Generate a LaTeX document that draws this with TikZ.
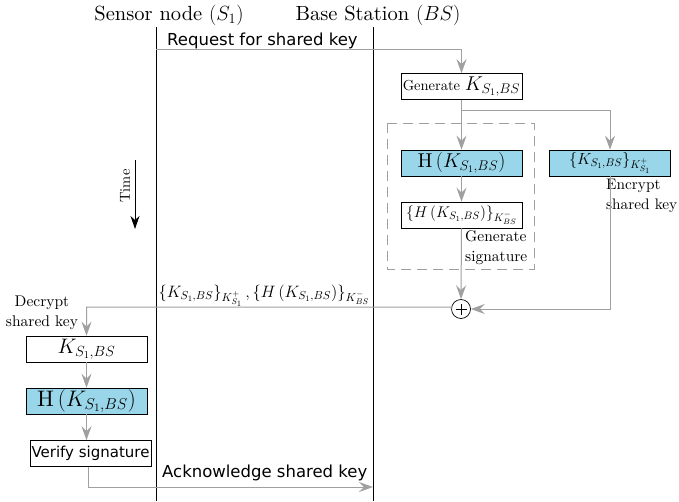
\RequirePackage{fix-cm}
\documentclass[tikz,border=0pt]{standalone}
\usepackage{fontspec}
\setmainfont{lmroman10-regular.otf}[ItalicFont=lmroman10-italic.otf,BoldFont=lmroman10-bold.otf]
\newfontfamily\sansf{DejaVu Sans}
\usetikzlibrary{arrows.meta}
\definecolor{arrg}{RGB}{160,160,160}
\definecolor{boxblue}{RGB}{153,214,234}
\definecolor{dashg}{RGB}{160,160,160}
\begin{document}
\begin{tikzpicture}[x=1pt,y=-1pt,
  flow/.style={draw=arrg,line width=1pt,-{Stealth[length=14pt,width=10pt,inset=5pt]}},
  life/.style={draw=black,line width=0.8pt},
  wbox/.style={draw=black,fill=white,line width=0.6pt,minimum width=121pt,minimum height=26pt,inner sep=1pt},
  bbox/.style={wbox,fill=boxblue},
  lbl/.style={inner sep=0pt,align=left},
  sl/.style={inner sep=0pt,font=\sansf\fontsize{16.5}{18}\selectfont}]
\useasboundingbox (0,0) rectangle (679,501);
% headers
\node[inner sep=0pt,anchor=base,font=\fontsize{20.5}{23}\selectfont] (hs) at (169,20) {Sensor node $(S_1)$};
\node[inner sep=0pt,anchor=base,font=\fontsize{20.5}{23}\selectfont] (hb) at (378,20) {Base Station $(BS)$};
% lifelines
\coordinate (s0) at (156,27); \coordinate (s1) at (156,501);
\coordinate (b0) at (373,27); \coordinate (b1) at (373,501);
\draw[life] (s0) -- (s1);
\draw[life] (b0) -- (b1);
% time arrow
\coordinate (t0) at (135,160); \coordinate (t1) at (135,229);
\draw[line width=1pt,-{Stealth[length=13pt,width=9pt,inset=4pt]}] (t0) -- (t1);
\node[rotate=90,inner sep=0pt,font=\fontsize{14.5}{17}\selectfont] (time) at (125,186) {Time};
% boxes BS side
\node[wbox,font=\fontsize{14.5}{17}\selectfont] (gen) at (461.5,86.5) {Generate {\fontsize{20}{22}\selectfont$K_{S_1,BS}$}};
\draw[dashg,line width=1pt,dash pattern=on 10pt off 6pt] (387,123) rectangle (534,269);
\node[bbox,font=\fontsize{20}{22}\selectfont] (hk) at (461.5,163) {$\mathrm{H}\left(K_{S_1,BS}\right)$};
\node[wbox,font=\fontsize{15.5}{17}\selectfont] (sig) at (461.5,215) {$\{H\left(K_{S_1,BS}\right)\}_{K_{BS}^-}$};
\node[bbox,font=\fontsize{16}{19}\selectfont] (enc) at (610,163) {$\{K_{S_1,BS}\}_{K_{S_1}^+}$};
\node[lbl,anchor=north west,font=\fontsize{15.5}{20}\selectfont] (gsl) at (465,230) {Generate\\signature};
\node[lbl,anchor=north west,font=\fontsize{15.3}{20}\selectfont] (esl) at (606,179) {Encrypt\\shared key};
\node[circle,draw=black,line width=0.7pt,minimum size=19pt,inner sep=0pt] (xor) at (461,309) {};
\draw[line width=0.7pt] ([xshift=-5.5pt]xor.center) -- ([xshift=5.5pt]xor.center)
  ([yshift=-5.5pt]xor.center) -- ([yshift=5.5pt]xor.center);
% sensor side boxes
\node[wbox,font=\fontsize{21}{24}\selectfont] (k) at (86.5,349) {$K_{S_1,BS}$};
\node[bbox,font=\fontsize{22.5}{24}\selectfont] (hk2) at (86.5,401) {$\mathrm{H}\left(K_{S_1,BS}\right)$};
\node[wbox,font=\sansf\fontsize{15}{17}\selectfont] (ver) at (90.5,453.5) {Verify signature};
\node[lbl,align=center,font=\fontsize{15.5}{20}\selectfont] (dsl) at (42,313) {Decrypt\\shared key};
% connectors
\coordinate (r0) at (156,49);
\draw[flow] (r0) -- (r0 -| gen.north) -- (gen.north);
\node[sl,anchor=base west] (rq) at (167,45) {Request for shared key};
\coordinate (br) at (461.5,110);
\draw[flow] (gen.south) -- (hk.north);
\draw[flow] (br) -| (enc.north);
\draw[flow] (hk.south) -- (sig.north);
\draw[flow] (sig.south) -- (xor.north);
\draw[flow] (enc.south) |- (xor.east);
\coordinate (m0) at (451,307);
\draw[flow] (xor.west) -- (m0) -- (m0 -| k.north) -- (k.north);
\node[inner sep=0pt,anchor=base,font=\fontsize{16.5}{18}\selectfont] (ml) at (264,297) {$\{K_{S_1,BS}\}_{K_{S_1}^+}\,,\{H\left(K_{S_1,BS}\right)\}_{K_{BS}^-}$};
\draw[flow] (k.south) -- (hk2.north);
\draw[flow] (hk2.south) -- (ver.north -| hk2.south);
\coordinate (a0) at (88,487);
\draw[flow] (ver.south -| a0) -- (a0) -- (a0 -| b0);
\node[sl,anchor=base west] (ak) at (162,477) {Acknowledge shared key};
\end{tikzpicture}
\end{document}
